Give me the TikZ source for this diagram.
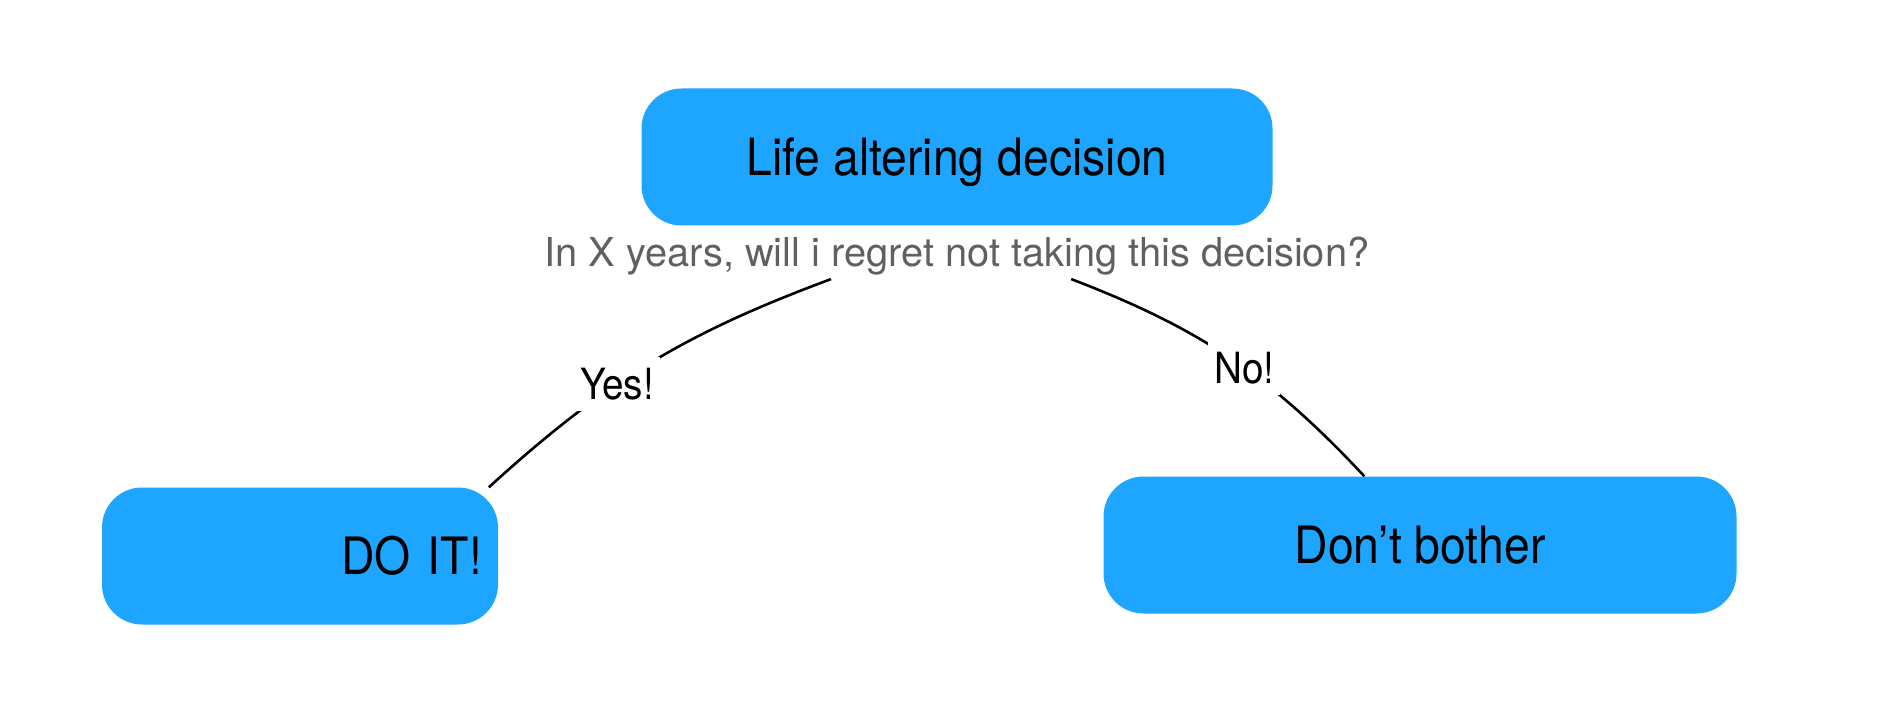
\documentclass[tikz,border=0pt]{standalone}
\usepackage{fontspec}
\setmainfont{TeX Gyre Heros}
\newfontfamily\boxfont[FakeStretch=0.9]{TeX Gyre Heros}
\usepackage{tikz}
\usetikzlibrary{positioning}
\definecolor{boxblue}{RGB}{29,165,255}
\definecolor{asktext}{RGB}{96,96,96}

\begin{document}
\begin{tikzpicture}[x=1pt, y=1pt,
  box/.style={fill=boxblue, rounded corners=40pt, minimum height=137pt,
    text height=37pt, text depth=0pt, font=\boxfont\fontsize{51.5}{60}\selectfont},
  question/.style={text=asktext, inner sep=4pt, text height=28pt, text depth=8pt,
    font=\fontsize{39.8}{46}\selectfont},
  answer/.style={fill=white, inner xsep=6pt, inner ysep=11pt,
    font=\boxfont\fontsize{43}{48}\selectfont},
  link/.style={line width=2.6pt}
]
\useasboundingbox (0,0) rectangle (1898,724);

\node[box, minimum width=631pt] (life) at (957,567) {Life altering decision};
\node[question, below=9pt of life] (ask) {In X years, will i regret not taking this decision?};
\node[box, minimum width=396pt, inner xsep=0pt, text width=364pt, align=right] (doit) at (300,168) {DO IT!};
\node[box, minimum width=633pt] (dont) at (1420,179) {Don’t bother};

\draw[link] (ask.190) to[bend right=11] node[answer, pos=0.6] {Yes!} (doit.20);
\draw[link] (ask.349) to[bend left=13] node[answer, pos=0.55] {No!} (dont.129);
\end{tikzpicture}
\end{document}
